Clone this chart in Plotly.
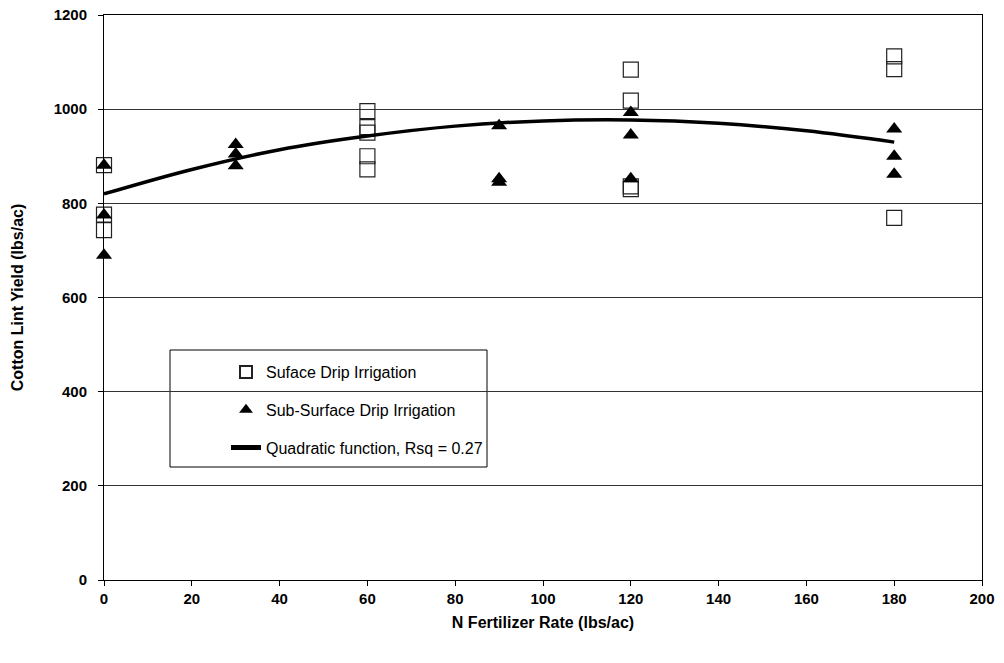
import plotly.graph_objects as go

# Surface drip irrigation (open squares)
surf_x = [0, 0, 0, 60, 60, 60, 60, 60, 120, 120, 120, 120, 180, 180, 180]
surf_y = [881, 776, 743, 996, 962, 950, 900, 872, 1084, 1018, 836, 830, 1112, 1085, 769]

# Sub-surface drip irrigation (filled triangles)
sub_x = [0, 0, 0, 30, 30, 30, 90, 90, 90, 120, 120, 120, 180, 180, 180]
sub_y = [881, 775, 690, 925, 905, 880, 965, 852, 845, 993, 945, 852, 958, 900, 862]

# Quadratic fit curve
fit_x = [0, 20, 40, 60, 80, 100, 120, 140, 160, 180]
fit_y = [820, 872, 914, 943, 964, 975, 977, 970, 954, 930]

x_ticks = [0, 20, 40, 60, 80, 100, 120, 140, 160, 180, 200]
y_ticks = [0, 200, 400, 600, 800, 1000, 1200]

FONT = "Arial, Liberation Sans, sans-serif"

fig = go.Figure()
fig.add_trace(go.Scatter(
    x=surf_x, y=surf_y, mode="markers", name="Suface Drip Irrigation",
    legendgroup="a", cliponaxis=False,
    marker=dict(symbol="square-open", size=15, color="#222", line=dict(width=1.2, color="#222")),
))
fig.add_trace(go.Scatter(
    x=sub_x, y=sub_y, mode="markers", name="Sub-Surface Drip Irrigation",
    legendgroup="b", cliponaxis=False,
    marker=dict(symbol="triangle-up", size=14, color="black"),
))
fig.add_trace(go.Scatter(
    x=fit_x, y=fit_y, mode="lines", name="Quadratic function, Rsq = 0.27",
    legendgroup="c",
    line=dict(color="black", width=3.5, shape="spline"),
))

W, H = 1004, 663
L, T = 104, 15
R = W - 982
B = H - 580
pw, ph = W - L - R, H - T - B

def px_x(p):
    return (p - L) / pw

def px_y(p):
    return (H - B - p) / ph

fig.add_shape(type="rect", xref="paper", yref="paper",
              x0=px_x(170), x1=px_x(487), y0=px_y(467), y1=px_y(350),
              line=dict(color="black", width=1), fillcolor="white", layer="below")

fig.update_layout(
    width=W, height=H,
    margin=dict(l=L, r=R, t=T, b=B, autoexpand=False),
    paper_bgcolor="white", plot_bgcolor="white",
    font=dict(family=FONT, color="black"),
    showlegend=True,
    legend=dict(
        x=px_x(226), y=px_y(355), xanchor="left", yanchor="top",
        bgcolor="rgba(0,0,0,0)", borderwidth=0,
        font=dict(size=16, family=FONT, color="black"),
        tracegroupgap=14, itemsizing="constant",
    ),
    xaxis=dict(
        range=[0, 200], tickvals=x_ticks, ticktext=[str(v) for v in x_ticks],
        showgrid=False, zeroline=False, automargin=False,
        showline=True, linecolor="black", linewidth=1, mirror=True,
        ticks="outside", ticklen=5, tickcolor="black", ticklabeloverflow="allow",
        tickfont=dict(size=15, family=FONT, color="black", weight="bold"),
        title=dict(text="<b>N Fertilizer Rate (lbs/ac)</b>", font=dict(size=16, family=FONT), standoff=10),
    ),
    yaxis=dict(
        range=[0, 1200], tickvals=y_ticks, ticktext=[str(v) for v in y_ticks],
        showgrid=True, gridcolor="#333", gridwidth=1, zeroline=False, automargin=False,
        showline=True, linecolor="black", linewidth=1, mirror=True,
        ticks="outside", ticklen=5, tickcolor="black", ticklabelstandoff=8,
        ticklabeloverflow="allow",
        tickfont=dict(size=15, family=FONT, color="black", weight="bold"),
        title=dict(text="<b>Cotton Lint Yield (lbs/ac)</b>", font=dict(size=16, family=FONT), standoff=26),
    ),
)

fig.write_html("out.html", config={"displayModeBar": False},
               post_script="document.body.style.margin='0';")
